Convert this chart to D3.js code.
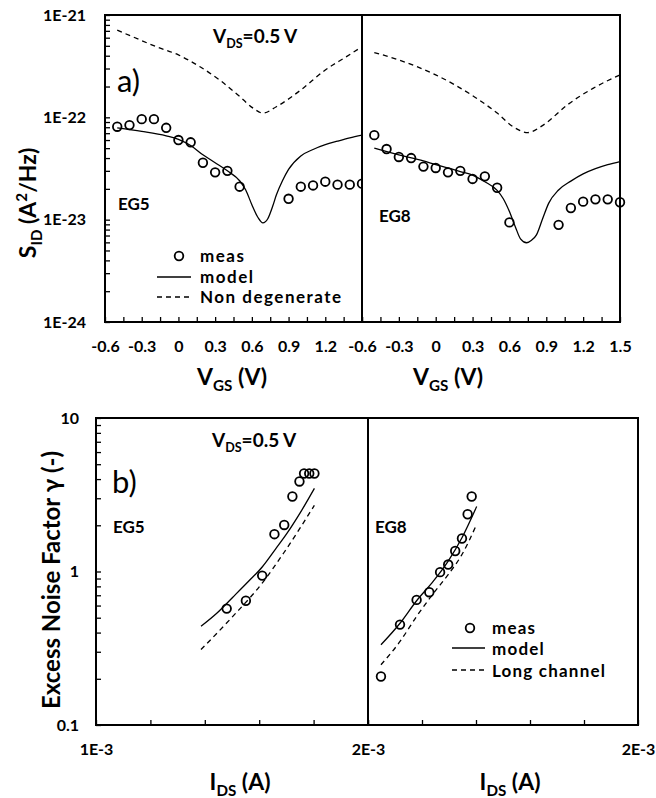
<!DOCTYPE html>
<html><head><meta charset="utf-8">
<script src="https://cdn.jsdelivr.net/npm/d3@7"></script>
<style>body{margin:0;background:#fff} svg{display:block}</style>
</head><body>
<svg id="c" width="656" height="798"></svg>
<script>
// ---------- DATA : panel a) S_ID vs V_GS ----------
const vgsEG5meas = [-0.5,-0.4,-0.3,-0.2,-0.1,0,0.1,0.2,0.3,0.4,0.5,0.9,1.0,1.1,1.2,1.3,1.4,1.5];
const sidEG5meas = [8.1e-23,8.4e-23,9.6e-23,9.6e-23,7.9e-23,6.0e-23,5.7e-23,3.6e-23,2.9e-23,3.0e-23,2.1e-23,1.6e-23,2.1e-23,2.16e-23,2.35e-23,2.2e-23,2.2e-23,2.25e-23];
const vgsEG5model = [-0.5,-0.3,-0.1,0,0.1,0.2,0.3,0.4,0.5,0.55,0.6,0.65,0.69,0.73,0.77,0.8,0.85,0.9,1.0,1.1,1.2,1.3,1.4,1.5];
const sidEG5model = [7.9e-23,7.3e-23,6.6e-23,6.1e-23,5.3e-23,4.3e-23,3.6e-23,3.0e-23,2.4e-23,1.95e-23,1.4e-23,1.05e-23,9.3e-24,1.02e-23,1.35e-23,1.74e-23,2.4e-23,3.1e-23,4.2e-23,4.85e-23,5.4e-23,5.85e-23,6.3e-23,6.7e-23];
const vgsEG5nd = [-0.5,-0.37,-0.18,0,0.18,0.34,0.5,0.61,0.69,0.8,1.0,1.2,1.37,1.5];
const sidEG5nd = [7.1e-22,6.1e-22,4.9e-22,4.07e-22,3.1e-22,2.3e-22,1.6e-22,1.23e-22,1.1e-22,1.27e-22,1.85e-22,2.9e-22,3.9e-22,4.9e-22];

const vgsEG8meas = [-0.5,-0.4,-0.3,-0.2,-0.1,0,0.1,0.2,0.3,0.4,0.5,0.6,1.0,1.1,1.2,1.3,1.4,1.5];
const sidEG8meas = [6.7e-23,4.9e-23,4.1e-23,4.0e-23,3.3e-23,3.2e-23,2.9e-23,3.0e-23,2.5e-23,2.65e-23,2.05e-23,9.4e-24,8.9e-24,1.3e-23,1.5e-23,1.58e-23,1.58e-23,1.48e-23];
const vgsEG8model = [-0.5,-0.3,-0.1,0,0.1,0.2,0.3,0.4,0.5,0.55,0.6,0.65,0.69,0.74,0.78,0.82,0.87,0.92,1.0,1.1,1.2,1.3,1.4,1.5];
const sidEG8model = [5.0e-23,4.3e-23,3.75e-23,3.45e-23,3.2e-23,2.95e-23,2.73e-23,2.35e-23,1.93e-23,1.6e-23,1.2e-23,8.4e-24,6.5e-24,5.95e-24,6.3e-24,7.1e-24,1.02e-23,1.45e-23,1.95e-23,2.38e-23,2.8e-23,3.15e-23,3.45e-23,3.7e-23];
const vgsEG8nd = [-0.5,-0.29,0,0.31,0.5,0.63,0.75,0.875,1.07,1.28,1.5];
const sidEG8nd = [4.3e-22,3.6e-22,2.6e-22,1.6e-22,1.1e-22,8.1e-23,7.1e-23,8.4e-23,1.32e-22,1.92e-22,2.6e-22];

// ---------- DATA : panel b) gamma vs I_DS ----------
const idsEG5meas = [1.4805e-3,1.551e-3,1.611e-3,1.656e-3,1.692e-3,1.722e-3,1.748e-3,1.765e-3,1.784e-3,1.803e-3];
const gamEG5meas = [0.573,0.645,0.94,1.75,2.01,3.08,3.86,4.35,4.35,4.35];
const idsEG5model = [1.386e-3,1.444e-3,1.503e-3,1.56e-3,1.611e-3,1.66e-3,1.70e-3,1.75e-3,1.803e-3];
const gamEG5model = [0.44,0.535,0.68,0.86,1.07,1.40,1.75,2.4,3.48];
const idsEG5long = [1.386e-3,1.503e-3,1.611e-3,1.69e-3,1.803e-3];
const gamEG5long = [0.31,0.51,0.84,1.32,2.7];

const idsEG8meas = [1.048e-3,1.1185e-3,1.180e-3,1.227e-3,1.267e-3,1.297e-3,1.323e-3,1.348e-3,1.369e-3,1.384e-3];
const gamEG8meas = [0.207,0.451,0.653,0.733,0.99,1.11,1.36,1.64,2.36,3.08];
const idsEG8model = [1.048e-3,1.1185e-3,1.180e-3,1.242e-3,1.297e-3,1.348e-3,1.4025e-3];
const gamEG8model = [0.333,0.46,0.645,0.865,1.17,1.66,2.65];
const idsEG8long = [1.048e-3,1.1185e-3,1.180e-3,1.242e-3,1.297e-3,1.348e-3,1.4025e-3];
const gamEG8long = [0.247,0.35,0.51,0.72,0.955,1.29,2.03];

// ---------- tick labels ----------
const topXLabelValsL = [-0.6,-0.3,0,0.3,0.6,0.9,1.2];
const topXLabelValsR = [-0.6,-0.3,0,0.3,0.6,0.9,1.2,1.5];
const topYLabelVals = [1e-24,1e-23,1e-22,1e-21];
const topYLabels = ["1E-24","1E-23","1E-22","1E-21"];
const botYLabelVals = [0.1,1,10];
const botYLabels = ["0.1","1","10"];
const botXLabelValsL = [1e-3,2e-3];
const botXLabelsL = ["1E-3","2E-3"];
const botXLabelValsR = [2e-3];
const botXLabelsR = ["2E-3"];

// ---------- drawing ----------
const FONT = "Lato, 'Open Sans', sans-serif";
const TICKFS = 16;
const svg = d3.select("#c");

const xTL = d3.scaleLinear([-0.6,1.5],[105,362]);
const xTR = d3.scaleLinear([-0.6,1.5],[362,620]);
const yT = d3.scaleLog([1e-24,1e-21],[322,15]);
const xBL = d3.scaleLinear([1e-3,2e-3],[96,368]);
const xBR = d3.scaleLinear([1e-3,2e-3],[368,638]);
const yB = d3.scaleLog([0.1,10],[725,418]);

function logMinor(lo, hi){ const v=[]; for(let k=lo;k<hi;k++) for(let m=1;m<10;m++) v.push(m*Math.pow(10,k)); v.push(Math.pow(10,hi)); return v; }

function styleAxis(g, fs){
  g.select(".domain").remove();
  g.selectAll(".tick line").attr("stroke","#000").attr("stroke-width",1.3);
  g.selectAll(".tick text").attr("fill","#000").style("font-family",FONT).style("font-weight","bold").style("font-size",fs+"px");
}
function labelerLin(vals){
  return d => { const i = vals.findIndex(v => Math.abs(v-d) < 1e-6); return i>=0 ? String(vals[i]) : ""; };
}
function labelerLog(vals, labels){
  return d => { const i = vals.findIndex(v => Math.abs(Math.log10(v)-Math.log10(d)) < 1e-6); return i>=0 ? labels[i] : ""; };
}
function labelerIds(vals, labels){
  return d => { const i = vals.findIndex(v => Math.abs(v-d) < 1e-9); return i>=0 ? labels[i] : ""; };
}

// rich text helper
function rich(parent, x, y, parts, fs, opts={}){
  const t = parent.append("text").attr("x",x).attr("y",y)
    .style("font-family",FONT).style("font-weight",opts.weight||"bold").style("font-size",fs+"px")
    .attr("text-anchor",opts.anchor||"start").attr("fill","#000");
  if(opts.ls) t.style("letter-spacing",opts.ls+"px");
  if(opts.transform) t.attr("transform",opts.transform);
  let off = 0;
  parts.forEach(p => {
    let target = 0, size = fs;
    if(p.sub){ target = 0.28*fs; size = 0.66*fs; }
    if(p.sup){ target = -0.38*fs; size = 0.66*fs; }
    t.append("tspan").attr("dy", target-off).style("font-size",size+"px").text(p.t);
    off = target;
  });
  return t;
}

const topXTicks = d3.range(0,15).map(i => -0.6 + i*0.15);
const botXTicks = d3.range(0,6).map(i => 1e-3 + i*0.2e-3);

// ---- top axes ----
svg.append("g").attr("transform","translate(0,322)")
  .call(d3.axisBottom(xTL).tickValues(topXTicks).tickSizeInner(-5).tickSizeOuter(0).tickPadding(19).tickFormat(labelerLin(topXLabelValsL)))
  .call(g => styleAxis(g,TICKFS));
svg.append("g").attr("transform","translate(0,322)")
  .call(d3.axisBottom(xTR).tickValues(topXTicks).tickSizeInner(-5).tickSizeOuter(0).tickPadding(19).tickFormat(labelerLin(topXLabelValsR)))
  .call(g => styleAxis(g,TICKFS));
svg.append("g").attr("transform","translate(105,0)")
  .call(d3.axisLeft(yT).tickValues(logMinor(-24,-21)).tickSizeInner(-5).tickSizeOuter(0).tickPadding(19).tickFormat(labelerLog(topYLabelVals, topYLabels)))
  .call(g => styleAxis(g,TICKFS));

// ---- bottom axes ----
svg.append("g").attr("transform","translate(0,725)")
  .call(d3.axisBottom(xBL).tickValues(botXTicks).tickSizeInner(-5).tickSizeOuter(0).tickPadding(19).tickFormat(labelerIds(botXLabelValsL, botXLabelsL)))
  .call(g => styleAxis(g,TICKFS));
svg.append("g").attr("transform","translate(0,725)")
  .call(d3.axisBottom(xBR).tickValues(botXTicks).tickSizeInner(-5).tickSizeOuter(0).tickPadding(19).tickFormat(labelerIds(botXLabelValsR, botXLabelsR)))
  .call(g => styleAxis(g,TICKFS));
svg.append("g").attr("transform","translate(96,0)")
  .call(d3.axisLeft(yB).tickValues(logMinor(-1,1)).tickSizeInner(-5).tickSizeOuter(0).tickPadding(17).tickFormat(labelerLog(botYLabelVals, botYLabels)))
  .call(g => styleAxis(g,TICKFS));

// ---- clip for top-left panel ----
const defs = svg.append("defs");
defs.append("clipPath").attr("id","clipTL").append("rect")
  .attr("x",xTL.range()[0]).attr("y",yT.range()[1]).attr("width",xTL.range()[1]-xTL.range()[0]).attr("height",yT.range()[0]-yT.range()[1]);

function series(parent, xs, ys, xS, yS, dashed){
  const pts = xs.map((x,i)=>[x,ys[i]]);
  parent.append("path").datum(pts)
    .attr("d", d3.line().x(d=>xS(d[0])).y(d=>yS(d[1])).curve(d3.curveMonotoneX))
    .attr("fill","none").attr("stroke","#000").attr("stroke-width",1.3)
    .attr("stroke-dasharray", dashed ? "5,4" : null);
}
function circles(parent, xs, ys, xS, yS){
  parent.selectAll(null).data(xs.map((x,i)=>[x,ys[i]])).enter().append("circle")
    .attr("cx",d=>xS(d[0])).attr("cy",d=>yS(d[1])).attr("r",4.3)
    .attr("fill","none").attr("stroke","#000").attr("stroke-width",1.8);
}

const gTL = svg.append("g").attr("clip-path","url(#clipTL)");
series(gTL, vgsEG5nd, sidEG5nd, xTL, yT, true);
series(gTL, vgsEG5model, sidEG5model, xTL, yT, false);
circles(gTL, vgsEG5meas, sidEG5meas, xTL, yT);

const gTR = svg.append("g");
series(gTR, vgsEG8nd, sidEG8nd, xTR, yT, true);
series(gTR, vgsEG8model, sidEG8model, xTR, yT, false);
circles(gTR, vgsEG8meas, sidEG8meas, xTR, yT);

const gBL = svg.append("g");
series(gBL, idsEG5long, gamEG5long, xBL, yB, true);
series(gBL, idsEG5model, gamEG5model, xBL, yB, false);
circles(gBL, idsEG5meas, gamEG5meas, xBL, yB);

const gBR = svg.append("g");
series(gBR, idsEG8long, gamEG8long, xBR, yB, true);
series(gBR, idsEG8model, gamEG8model, xBR, yB, false);
circles(gBR, idsEG8meas, gamEG8meas, xBR, yB);

// ---- boxes ----
function box(xS, yS){
  svg.append("rect").attr("x",xS.range()[0]).attr("y",yS.range()[1])
    .attr("width",xS.range()[1]-xS.range()[0]).attr("height",yS.range()[0]-yS.range()[1])
    .attr("fill","none").attr("stroke","#000").attr("stroke-width",2);
}
box(xTL,yT); box(xTR,yT); box(xBL,yB); box(xBR,yB);

// ---- texts top ----
rich(svg, 213, 43, [{t:"V"},{t:"DS",sub:true},{t:"=0.5 V"}], 19);
rich(svg, 117, 92, [{t:"a)"}], 31, {weight:"normal"});
rich(svg, 118, 210, [{t:"EG5"}], 17);
rich(svg, 379, 222, [{t:"EG8"}], 17);
rich(svg, 36, 203, [{t:"S"},{t:"ID",sub:true},{t:" (A"},{t:"2",sup:true},{t:"/Hz)"}], 23, {anchor:"middle", transform:"rotate(-90,36,203)"});
rich(svg, 232, 385, [{t:"V"},{t:"GS",sub:true},{t:" (V)"}], 23, {anchor:"middle"});
rich(svg, 448, 385, [{t:"V"},{t:"GS",sub:true},{t:" (V)"}], 23, {anchor:"middle"});

// legend top
svg.append("circle").attr("cx",179).attr("cy",256).attr("r",4.3).attr("fill","none").attr("stroke","#000").attr("stroke-width",1.8);
svg.append("line").attr("x1",157).attr("x2",191).attr("y1",277).attr("y2",277).attr("stroke","#000").attr("stroke-width",1.3);
svg.append("line").attr("x1",157).attr("x2",191).attr("y1",297).attr("y2",297).attr("stroke","#000").attr("stroke-width",1.3).attr("stroke-dasharray","5,4");
rich(svg, 200, 262, [{t:"meas"}], 17, {ls:1.5});
rich(svg, 200, 283, [{t:"model"}], 17, {ls:1.5});
rich(svg, 200, 303, [{t:"Non degenerate"}], 17, {ls:1.5});

// ---- texts bottom ----
rich(svg, 212, 447, [{t:"V"},{t:"DS",sub:true},{t:"=0.5 V"}], 19);
rich(svg, 112, 493, [{t:"b)"}], 31, {weight:"normal"});
rich(svg, 113, 533, [{t:"EG5"}], 17);
rich(svg, 375, 533, [{t:"EG8"}], 17);
rich(svg, 60, 580, [{t:"Excess Noise Factor γ (-)"}], 24, {anchor:"middle", transform:"rotate(-90,60,580)"});
rich(svg, 240, 790, [{t:"I"},{t:"DS",sub:true},{t:" (A)"}], 23, {anchor:"middle"});
rich(svg, 510, 790, [{t:"I"},{t:"DS",sub:true},{t:" (A)"}], 23, {anchor:"middle"});

// legend bottom
svg.append("circle").attr("cx",470).attr("cy",628).attr("r",4.3).attr("fill","none").attr("stroke","#000").attr("stroke-width",1.8);
svg.append("line").attr("x1",452).attr("x2",485).attr("y1",648).attr("y2",648).attr("stroke","#000").attr("stroke-width",1.3);
svg.append("line").attr("x1",452).attr("x2",485).attr("y1",670).attr("y2",670).attr("stroke","#000").attr("stroke-width",1.3).attr("stroke-dasharray","5,4");
rich(svg, 492, 634, [{t:"meas"}], 17, {ls:1.2});
rich(svg, 492, 655, [{t:"model"}], 17, {ls:1.2});
rich(svg, 492, 677, [{t:"Long channel"}], 17, {ls:1.2});
</script>
</body></html>
